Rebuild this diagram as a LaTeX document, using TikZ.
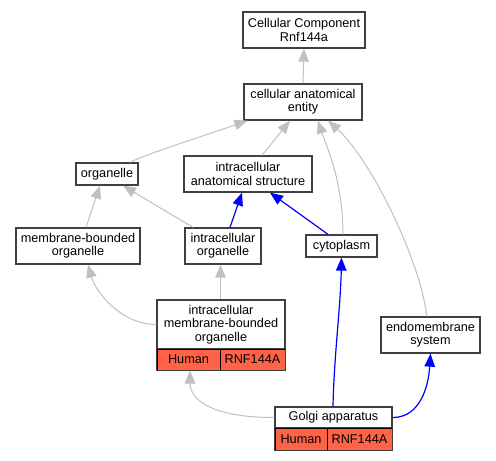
\documentclass[tikz,border=0pt]{standalone}
\usepackage{fontspec}
\setmainfont{Liberation Sans}
\usetikzlibrary{arrows.meta}
\definecolor{edgegray}{HTML}{C0C0C0}
\definecolor{boxline}{HTML}{404040}
\definecolor{tomatored}{HTML}{FF6347}
\begin{document}
\begin{tikzpicture}[x=1pt,y=-1pt,
  box/.style={draw=boxline,line width=1.3pt,fill=white,inner sep=0pt,align=center,
    font=\fontsize{12.7}{13.4}\selectfont},
  cell/.style={draw=black,line width=1pt,fill=tomatored,inner sep=0pt,align=center,
    font=\fontsize{12.7}{13.4}\selectfont},
  isa/.style={draw=edgegray,line width=1pt,-{Triangle[length=13pt,width=10.5pt]}},
  partof/.style={draw=blue,line width=1.2pt,-{Triangle[length=13pt,width=10.5pt]}},
]
\useasboundingbox (0,0) rectangle (496,461);
% nodes
\node[box,minimum width=122,minimum height=36] (cc) at (304,30) {Cellular Component\\Rnf144a};
\node[box,minimum width=118,minimum height=36] (cae) at (303,102) {cellular anatomical\\entity};
\node[box,minimum width=62,minimum height=22] (org) at (107,174) {organelle};
\node[box,minimum width=128,minimum height=36] (ias) at (248,174) {intracellular\\anatomical structure};
\node[box,minimum width=124,minimum height=36] (mbo) at (78,246) {membrane-bounded\\organelle};
\node[box,minimum width=76,minimum height=36] (io) at (223,246) {intracellular\\organelle};
\node[box,minimum width=71,minimum height=22] (cyt) at (341.5,246) {cytoplasm};
\node[box,minimum width=128,minimum height=49] (imbo) at (221,324.5) {intracellular\\membrane-bounded\\organelle};
\node[cell,minimum width=63,minimum height=21] (imboh) at (188.5,359.5) {Human};
\node[cell,minimum width=65,minimum height=21] (imbor) at (252.5,359.5) {RNF144A};
\draw[boxline,line width=1.3pt] (imbo.north west) rectangle (imbor.south east);
\node[box,minimum width=99,minimum height=36] (ems) at (430.5,335) {endomembrane\\system};
\node[box,minimum width=117,minimum height=21] (golgi) at (333.5,417.5) {Golgi apparatus};
\node[cell,minimum width=52,minimum height=22] (golgih) at (301,439) {Human};
\node[cell,minimum width=65,minimum height=22] (golgir) at (359.5,439) {RNF144A};
\draw[boxline,line width=1.3pt] (golgi.north west) rectangle (golgir.south east);
% edges
\draw[isa] (cae.north) -- (cc.south);
\draw[isa] ([xshift=23]org.north) .. controls +(15,-8) and +(-40,14) .. ([xshift=4]cae.south west);
\draw[isa] ([xshift=14]ias.north) -- ([xshift=-13]cae.south);
\draw[isa] ([xshift=1.5]cyt.north) .. controls +(0,-55) and +(7,22) .. ([xshift=15]cae.south);
\draw[isa] ([xshift=-3.5]ems.north) .. controls +(-8,-60) and +(42,38) .. ([xshift=25]cae.south);
\draw[isa] ([xshift=8]mbo.north) -- ([xshift=-7]org.south);
\draw[isa] ([xshift=-30]io.north) -- ([xshift=16]org.south);
\draw[partof] ([xshift=7]io.north) -- ([xshift=-6]ias.south);
\draw[partof] ([xshift=-13.5]cyt.north) -- ([xshift=22]ias.south);
\draw[isa] (imbo.west) .. controls +(-35,0) and +(8,28) .. ([xshift=10]mbo.south);
\draw[isa] ([xshift=-0.5]imbo.north) -- ([xshift=-2.5]io.south);
\draw[isa] (golgi.west) .. controls +(-65,0) and +(0,28) .. ([xshift=1.5]imboh.south);
\draw[partof] ([xshift=-0.5]golgi.north) .. controls +(1,-50) and +(-1,50) .. (cyt.south);
\draw[partof] (golgi.east) .. controls +(28,0) and +(-2,32) .. (ems.south);
\end{tikzpicture}
\end{document}
